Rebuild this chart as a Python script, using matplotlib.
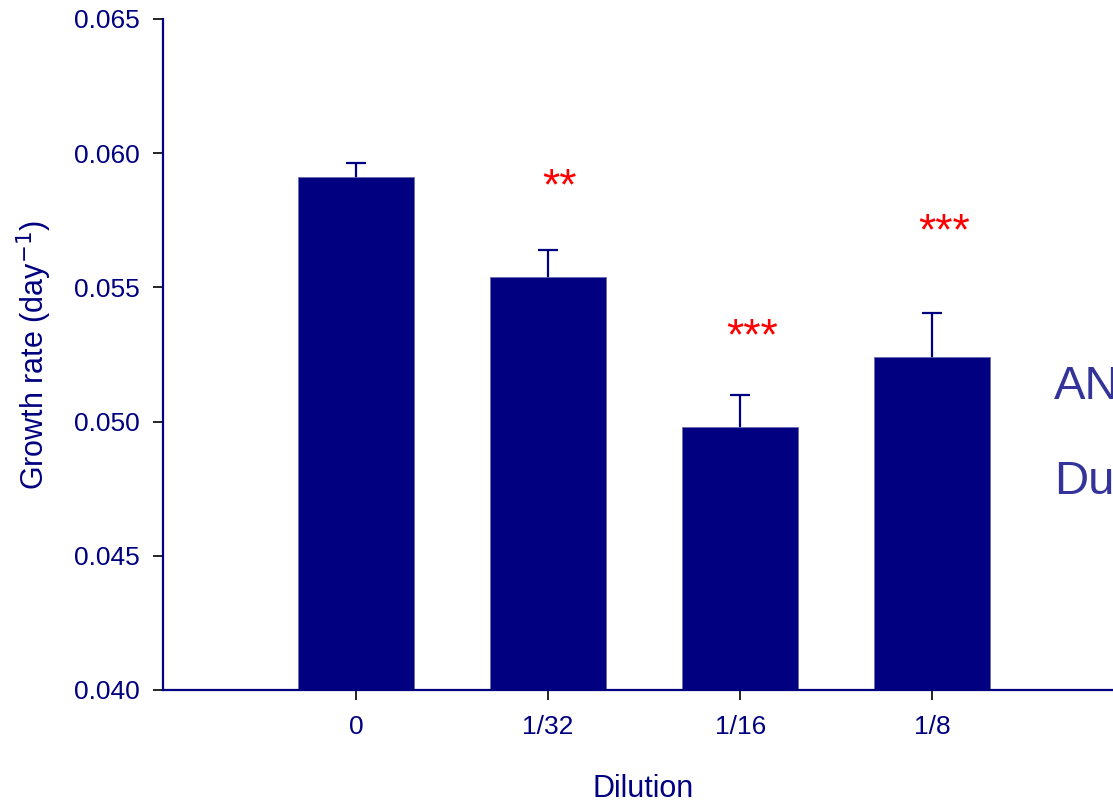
import numpy as np
import matplotlib.pyplot as plt

plt.rcParams['font.family'] = ['Liberation Sans', 'DejaVu Sans']

# growth rate per dilution, mean and upper SE
dilutions = ["0", "1/32", "1/16", "1/8"]
growth_rate = [0.0591, 0.0554, 0.0498, 0.0524]
growth_err = [0.00052, 0.0010, 0.00118, 0.00165]
stars = ["", "**", "***", "***"]
star_y = [None, 0.05872, 0.05312, 0.05702]

navy = "#000080"

fig = plt.figure(figsize=(11.13, 8.02), dpi=100)
ax = fig.add_axes([0.1465, 0.1397, 0.950, 0.8367])

x = np.arange(len(dilutions))
ax.bar(x, growth_rate, width=0.604, color=navy, edgecolor="#6a6ab0", linewidth=0.6, zorder=2)
# symmetric bars drawn underneath, so only the upper half shows
ax.errorbar(x, growth_rate, yerr=growth_err, fmt="none",
            ecolor=navy, elinewidth=1.6, capsize=7.5, capthick=1.6, zorder=1)

for xi, s, sy in zip(x, stars, star_y):
    if s:
        ax.text(xi + 0.06, sy, s, color="red", fontsize=32, ha="center", va="center")

ax.set_xlim(-1.005, 4.5)
ax.set_ylim(0.040, 0.065)
ax.set_yticks(np.arange(0.040, 0.0651, 0.005))
ax.set_yticklabels([f"{v:.3f}" for v in np.arange(0.040, 0.0651, 0.005)])
ax.set_xticks(x)
ax.set_xticklabels(dilutions)

for side in ("top", "right"):
    ax.spines[side].set_visible(False)
for side in ("left", "bottom"):
    ax.spines[side].set_color(navy)
    ax.spines[side].set_linewidth(1.6)

ax.tick_params(axis="both", colors="black", labelcolor=navy, labelsize=19,
               length=7, width=1.2, direction="out")
ax.tick_params(axis="y", pad=10)
ax.tick_params(axis="x", pad=11)

ax.set_ylabel("Growth rate (day$^{-1}$)", color=navy, fontsize=22, labelpad=14)
ax.set_xlabel("Dilution", color=navy, fontsize=22)
ax.xaxis.set_label_coords(0.454, -0.125)

fig.text(0.947, 0.517, "ANOVA", color="#333399", fontsize=34, va="center", ha="left")
fig.text(0.947, 0.399, "Dunnett", color="#333399", fontsize=34, va="center", ha="left")

fig.savefig("out.png", dpi=100)
